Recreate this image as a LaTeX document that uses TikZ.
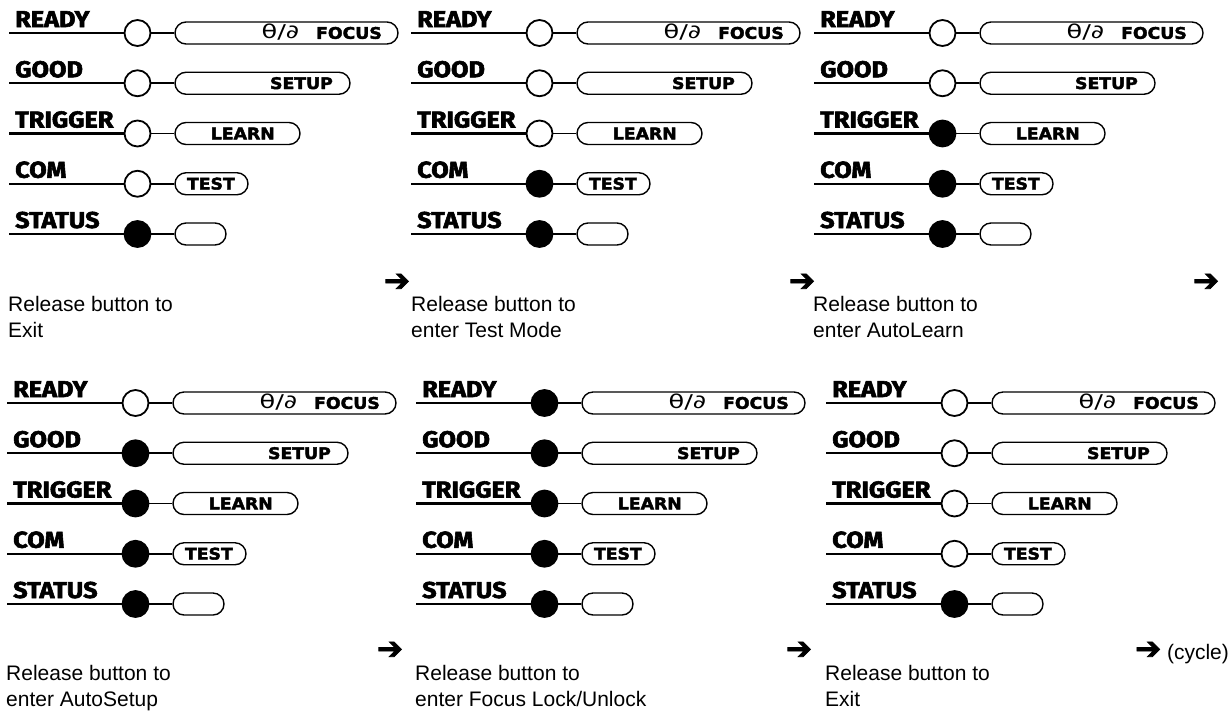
\documentclass[tikz,border=0pt]{standalone}
\usepackage{fontspec}
\usetikzlibrary{shapes.misc}
\setmainfont{Liberation Sans}
\newfontfamily\lblfont{Fira Sans}[FakeStretch=1.1, FakeBold=2.5]
\newfontfamily\btnfont{DejaVu Sans}[FakeStretch=1.08, FakeBold=2.5]
\newfontfamily\lockfont{DejaVu Sans}[FakeStretch=1.35]
\newfontfamily\symfont{DejaVu Sans}[FakeBold=2.5]

\tikzset{
  wire/.style={line width=2.2pt},
  conn/.style={line width=1.8pt},
  led/.style={circle, draw, line width=1.8pt, minimum size=26pt, inner sep=0pt},
  on/.style={fill=black},
  off/.style={fill=white},
  btn/.style={rounded rectangle, draw, line width=1.4pt, minimum height=22pt, inner sep=0pt},
  lbl/.style={anchor=base west, inner sep=0pt, font=\lblfont\bfseries\fontsize{23}{23}\selectfont},
  btxt/.style={anchor=base east, inner sep=0pt, font=\btnfont\bfseries\fontsize{16}{16}\selectfont},
  msg/.style={anchor=north west, inner sep=0pt, align=left, font=\fontsize{21}{26}\selectfont},
  arr/.style={anchor=base, inner sep=0pt, font=\symfont\fontsize{31}{31}\selectfont},
}

% #1 name prefix, #2 y, #3 label, #4 right end of button, #5 on/off
\newcommand\ledrow[5]{%
  \coordinate (#1s) at (9,#2);
  \node[led,#5] (#1c) at (137.5,#2) {};
  \node[btn,minimum width={(#4-175)*1pt}] (#1b) at ({(#4+175)/2},#2) {};
  \draw[wire] (#1s) -- (#1c);
  \draw[conn] (#1c) -- (#1b);
  \node[lbl] (#1l) at (15,#2-6) {#3};
}

% #1 prefix, #2 x shift, #3 y shift, #4..#8 states
\newcommand\ledpanel[8]{%
  \begin{scope}[shift={(#2,#3)}]
    \ledrow{#1-ready-}{33}{READY}{398}{#4}
    \ledrow{#1-good-}{83.25}{GOOD}{350}{#5}
    \ledrow{#1-trig-}{133.5}{TRIGGER}{300}{#6}
    \ledrow{#1-com-}{183.75}{COM}{248}{#7}
    \ledrow{#1-stat-}{234}{STATUS}{226}{#8}
    \node[btxt] (#1-ready-t) at (382,38.8) {{\lockfont\mdseries\fontsize{19}{19}\selectfont θ/∂}\hspace{17pt}FOCUS};
    \node[btxt] (#1-good-t) at (333,89) {SETUP};
    \node[btxt] (#1-trig-t) at (275,139.3) {LEARN};
    \node[btxt] (#1-com-t) at (235,189.5) {TEST};
  \end{scope}}

\begin{document}
\begin{tikzpicture}[x=1pt,y=-1pt]
  \useasboundingbox[fill=white] (0,0) rectangle (1230,713);

  \ledpanel{p1}{0}{0}{off}{off}{off}{off}{on}
  \ledpanel{p2}{402}{0}{off}{off}{off}{on}{on}
  \ledpanel{p3}{805}{0}{off}{off}{on}{on}{on}
  \ledpanel{p4}{-2}{370}{off}{on}{on}{on}{on}
  \ledpanel{p5}{407}{370}{on}{on}{on}{on}{on}
  \ledpanel{p6}{817}{370}{off}{off}{off}{off}{on}

  \node[msg] (m1) at (8,296) {Release button to\\Exit};
  \node[msg] (m2) at (411,296) {Release button to\\enter Test Mode};
  \node[msg] (m3) at (813,296) {Release button to\\enter AutoLearn};
  \node[msg] (m4) at (6,665) {Release button to\\enter AutoSetup};
  \node[msg] (m5) at (415,665) {Release button to\\enter Focus Lock/Unlock};
  \node[msg] (m6) at (825,665) {Release button to\\Exit};

  \node[arr] (a1) at (397,291) {➔};
  \node[arr] (a2) at (802,291) {➔};
  \node[arr] (a3) at (1206,291) {➔};
  \node[arr] (a4) at (390,659) {➔};
  \node[arr] (a5) at (799,659) {➔};
  \node[arr, anchor=base west] (a6) at (1135,659) {➔{\rmfamily\fontsize{21}{21}\selectfont\ (cycle)}};
\end{tikzpicture}
\end{document}
